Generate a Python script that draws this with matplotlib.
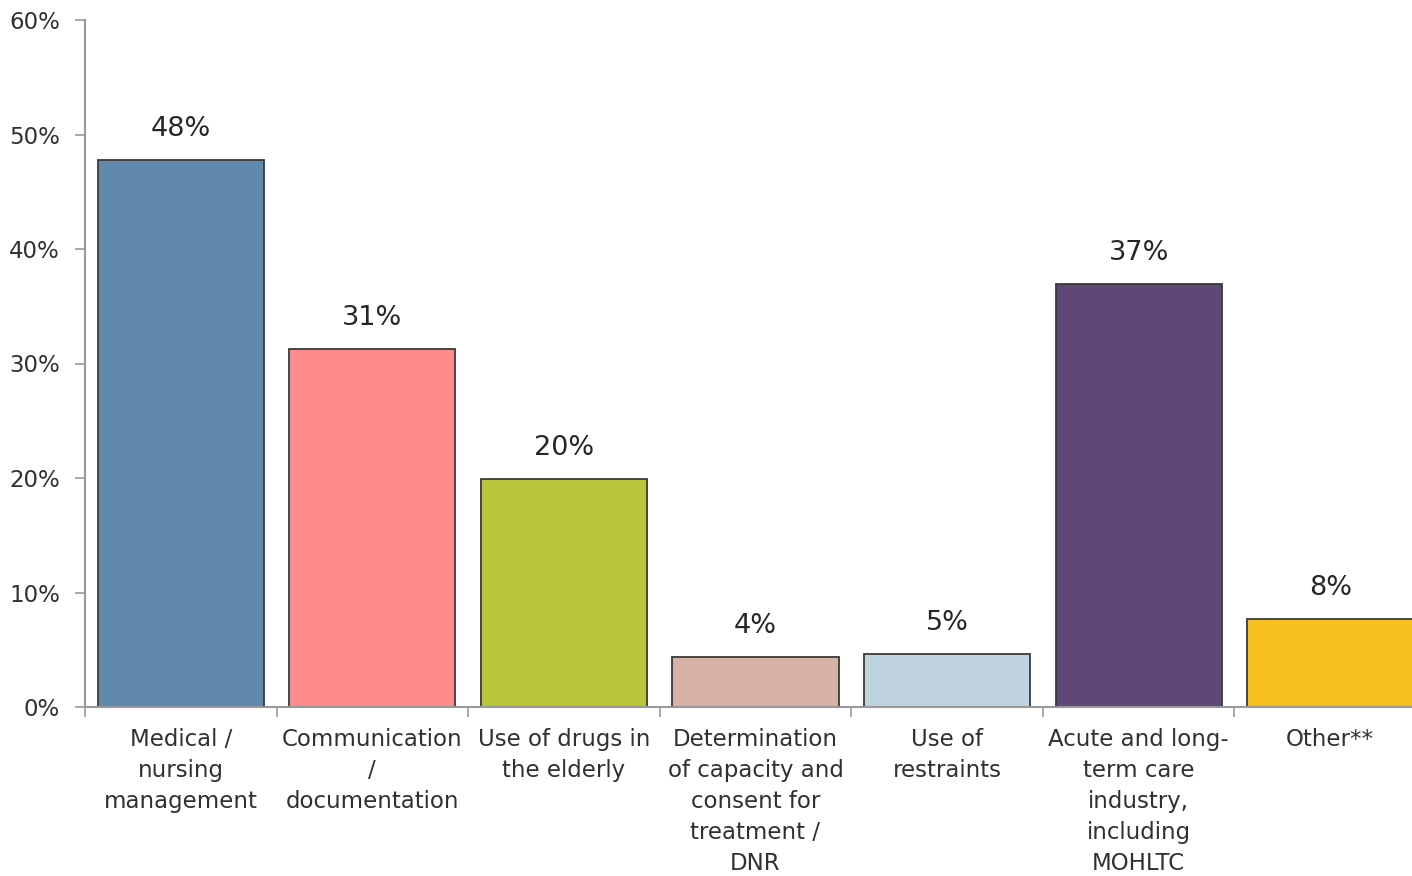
import matplotlib
matplotlib.use("Agg")
import matplotlib.pyplot as plt
import numpy as np

plt.rcParams['font.family'] = ['DejaVu Sans']

categories = [
    "Medical /\nnursing\nmanagement",
    "Communication\n/\ndocumentation",
    "Use of drugs in\nthe elderly",
    "Determination\nof capacity and\nconsent for\ntreatment /\nDNR",
    "Use of\nrestraints",
    "Acute and long-\nterm care\nindustry,\nincluding\nMOHLTC",
    "Other**",
]
values = [47.8, 31.3, 19.9, 4.4, 4.6, 36.9, 7.7]
colors = ["#6189AE", "#FF8C8C", "#BAC63A", "#D6B3A6", "#BFD3E0", "#5F4777", "#F5BF1F"]
yticks = [0, 10, 20, 30, 40, 50, 60]

fig = plt.figure(figsize=(14.12, 8.76), dpi=100)
# axes runs past the right edge, the last bar is cut off like in the source
ax = fig.add_axes([85 / 1412, 169 / 876, 1341 / 1412, 687 / 876])

x = np.arange(len(categories))
bars = ax.bar(x, values, width=0.867, color=colors, edgecolor="#3a3a3a", linewidth=1.3)

for b, v in zip(bars, values):
    ax.annotate(f"{v:.0f}%", (b.get_x() + b.get_width() / 2, v),
                xytext=(0, 13), textcoords="offset points",
                ha="center", va="bottom", fontsize=19.5, color="#262626")

ax.set_xlim(-0.5, len(categories) - 0.5)
ax.set_ylim(0, 60)

ax.set_yticks(yticks)
ax.set_yticklabels([f"{t}%" for t in yticks])
ax.set_xticks(x)
ax.set_xticklabels(categories, fontsize=16.5, color="#303030", linespacing=1.44)
ax.set_xticks(np.arange(-0.5, len(categories)), minor=True)

ax.tick_params(axis="y", labelsize=16.5, labelcolor="#303030", length=7, width=1.2,
               color="#999999", pad=11)
ax.tick_params(axis="x", which="major", length=0, pad=15)
ax.tick_params(axis="x", which="minor", length=7, width=1.2, color="#999999")

for s in ["top", "right"]:
    ax.spines[s].set_visible(False)
for s in ["left", "bottom"]:
    ax.spines[s].set_color("#999999")
    ax.spines[s].set_linewidth(1.5)

fig.savefig("out.png", dpi=100)
